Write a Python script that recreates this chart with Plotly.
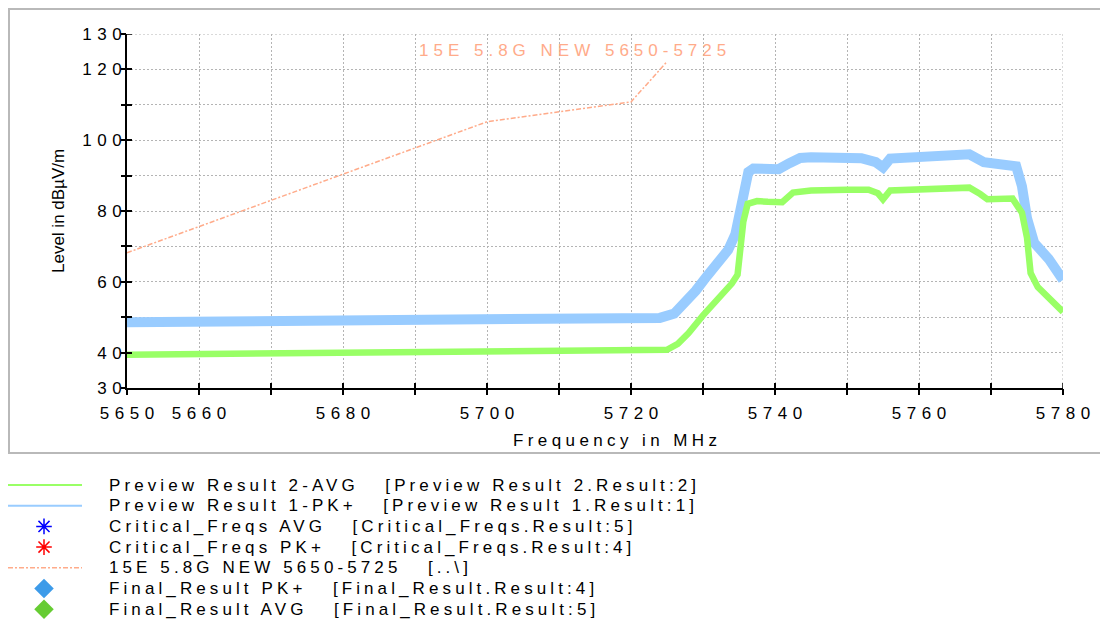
import plotly.graph_objects as go

# The page body has an 8px margin, so the figure is drawn 8px in from the
# window corner; all pixel positions below are window (page) pixels.
OFF = 8
W, H = 1108 - OFF, 623 - OFF

# ---------------- data ----------------
freq_pk = [5650, 5655, 5660, 5665, 5670, 5675, 5680, 5685, 5690, 5695, 5700, 5705,
           5710, 5715, 5720, 5724, 5726, 5727.5, 5729, 5730.5, 5732, 5733.5, 5734.5,
           5735.2, 5735.8, 5736.3, 5737, 5739, 5740.5, 5742, 5743.5, 5745, 5748, 5752,
           5754, 5755, 5756, 5760, 5764, 5767, 5769, 5771.5, 5773.5, 5774.3, 5775,
           5776, 5778, 5780]
level_pk = [48.6, 48.7, 48.8, 48.8, 49.0, 49.0, 49.2, 49.2, 49.4, 49.5, 49.8, 49.6,
            49.5, 49.6, 49.5, 49.8, 51.0, 54.0, 57.5, 61.5, 65.3, 69.0, 73.5,
            80.0, 87.0, 91.0, 92.0, 91.6, 91.8, 93.5, 95.0, 95.2, 94.8, 94.9,
            93.8, 92.3, 94.8, 95.1, 95.8, 96.0, 93.8, 93.2, 92.6, 87.0, 78.0,
            71.0, 66.5, 60.5]

freq_avg = [5650, 5660, 5670, 5680, 5690, 5700, 5710, 5720, 5725, 5726.5, 5728, 5730,
            5732, 5734, 5734.8, 5735.2, 5735.6, 5736.2, 5737.5, 5739, 5741, 5742.5,
            5745, 5750, 5753, 5754.3, 5755, 5756, 5760, 5764, 5767, 5768.5, 5769.5,
            5773, 5774.3, 5775, 5775.5, 5776.5, 5778, 5780]
level_avg = [39.4, 39.6, 39.8, 40.0, 40.2, 40.5, 40.4, 40.5, 40.8, 42.5, 45.5, 50.5,
             55.0, 59.5, 62.0, 70.0, 77.0, 82.0, 82.8, 82.6, 82.5, 85.2,
             85.8, 86.0, 86.0, 85.0, 83.3, 85.8, 86.0, 86.2, 86.6, 84.8, 83.3,
             83.5, 79.5, 72.5, 62.5, 58.5, 55.5, 51.5]

freq_limit = [5650, 5700, 5720, 5725]
level_limit = [68.2, 105.2, 110.8, 122.2]
limit_name = "15E 5.8G NEW 5650-5725"

x_tick_vals = [5650, 5660, 5670, 5680, 5690, 5700, 5710, 5720, 5730, 5740, 5750, 5760, 5770, 5780]
x_tick_labels = ["5650", "5660", "", "5680", "", "5700", "", "5720", "", "5740", "", "5760", "", "5780"]
y_tick_vals = [30, 40, 50, 60, 70, 80, 90, 100, 110, 120, 130]
y_tick_labels = ["30", "40", "", "60", "", "80", "", "100", "", "120", "130"]

x_range = [5650, 5780]
y_range = [30, 130]

x_title = "Frequency in MHz"
y_title = "Level in dBµV/m"

legend_labels = [
    "Preview Result 2-AVG   [Preview Result 2.Result:2]",
    "Preview Result 1-PK+   [Preview Result 1.Result:1]",
    "Critical_Freqs AVG   [Critical_Freqs.Result:5]",
    "Critical_Freqs PK+   [Critical_Freqs.Result:4]",
    "15E 5.8G NEW 5650-5725   [..\\]",
    "Final_Result PK+   [Final_Result.Result:4]",
    "Final_Result AVG   [Final_Result.Result:5]",
]

# ---------------- styles ----------------
C_AVG = "#99ff66"
C_PK = "#99ccff"
C_LIM = "#ffab8a"
GRID = "#b4b4b4"
GRID_DASH = "2px,2px"
FONT = "Liberation Sans, Arial, sans-serif"

L, R, T, B = 127, 1063, 34, 388  # plot area, page pixels


def spaced(s, ls):
    if len(s) < 2:
        return s
    return '<span style="letter-spacing:%spx">%s</span>%s' % (ls, s[:-1], s[-1])


fig = go.Figure()

fig.add_trace(go.Scatter(x=freq_pk, y=level_pk, mode="lines",
                         line=dict(color=C_PK, width=10), xaxis="x", yaxis="y"))
fig.add_trace(go.Scatter(x=freq_avg, y=level_avg, mode="lines",
                         line=dict(color=C_AVG, width=6.5), xaxis="x", yaxis="y"))
fig.add_trace(go.Scatter(x=freq_limit, y=level_limit, mode="lines",
                         line=dict(color=C_LIM, width=1.5, dash="5px,2px,2px,2px"),
                         xaxis="x", yaxis="y"))
# dummy trace for the overlay tick axes
fig.add_trace(go.Scatter(x=[None], y=[None], xaxis="x2", yaxis="y2"))

# ---------------- legend (page-pixel space on x3/y3) ----------------
row0, dy = 485, 20.7
rows = [row0 + i * dy for i in range(len(legend_labels))]
line_x = [8, 82]
mark_x = 44

fig.add_trace(go.Scatter(x=line_x, y=[rows[0]] * 2, mode="lines",
                         line=dict(color=C_AVG, width=2), xaxis="x3", yaxis="y3"))
fig.add_trace(go.Scatter(x=line_x, y=[rows[1]] * 2, mode="lines",
                         line=dict(color=C_PK, width=2), xaxis="x3", yaxis="y3"))
fig.add_trace(go.Scatter(x=[mark_x], y=[rows[2]], mode="markers",
                         marker=dict(symbol="asterisk-open", size=13, color="#0000ff",
                                     line=dict(color="#0000ff", width=1.5)),
                         xaxis="x3", yaxis="y3"))
fig.add_trace(go.Scatter(x=[mark_x], y=[rows[3]], mode="markers",
                         marker=dict(symbol="asterisk-open", size=13, color="#ff0000",
                                     line=dict(color="#ff0000", width=1.5)),
                         xaxis="x3", yaxis="y3"))
fig.add_trace(go.Scatter(x=line_x, y=[rows[4]] * 2, mode="lines",
                         line=dict(color=C_LIM, width=1.5, dash="5px,2px,2px,2px"),
                         xaxis="x3", yaxis="y3"))
fig.add_trace(go.Scatter(x=[mark_x], y=[rows[5]], mode="markers",
                         marker=dict(symbol="diamond", size=15, color="#3d9be9"),
                         xaxis="x3", yaxis="y3"))
fig.add_trace(go.Scatter(x=[mark_x], y=[rows[6]], mode="markers",
                         marker=dict(symbol="diamond", size=15, color="#66cc33"),
                         xaxis="x3", yaxis="y3"))

annotations = []
for yy, txt in zip(rows, legend_labels):
    annotations.append(dict(x=107, y=yy, xref="x3", yref="y3", text=spaced(txt, 4.1),
                            showarrow=False, xanchor="left", yanchor="middle",
                            font=dict(size=17, color="black", family=FONT)))

annotations.append(dict(x=511, y=440, xref="x3", yref="y3", text=spaced(x_title, 4.4),
                        showarrow=False, xanchor="left", yanchor="middle",
                        font=dict(size=17, color="black", family=FONT)))
annotations.append(dict(x=58, y=211, xref="x3", yref="y3", text=y_title, textangle=-90,
                        showarrow=False, xanchor="center", yanchor="middle",
                        font=dict(size=17, color="black", family=FONT)))
annotations.append(dict(x=417, y=50, xref="x3", yref="y3", text=spaced(limit_name, 5),
                        showarrow=False, xanchor="left", yanchor="middle",
                        font=dict(size=17, color=C_LIM, family=FONT)))

shapes = [
    # outer frame
    dict(type="rect", xref="x3", yref="y3", x0=9, x1=1101, y0=9, y1=453,
         line=dict(color="#b9b9b9", width=2), layer="below"),
    # edge grid lines that plotly drops at the range ends
    dict(type="line", xref="x", yref="y", x0=x_range[0], x1=x_range[1],
         y0=y_range[1], y1=y_range[1], line=dict(color=GRID, width=1, dash=GRID_DASH),
         layer="below"),
    dict(type="line", xref="x", yref="y", x0=x_range[1], x1=x_range[1],
         y0=y_range[0], y1=y_range[1], line=dict(color=GRID, width=1, dash=GRID_DASH),
         layer="below"),
    # inner halves of the end ticks
    dict(type="line", xref="x3", yref="y", x0=L, x1=L + 5, y0=y_range[1], y1=y_range[1],
         line=dict(color="black", width=1.5)),
    dict(type="line", xref="x", yref="y3", x0=x_range[1], x1=x_range[1], y0=B - 5, y1=B,
         line=dict(color="black", width=1.5)),
]

xdom = [(L - OFF) / W, (R - OFF) / W]
ydom = [1 - (B - OFF) / H, 1 - (T - OFF) / H]

tickfont = dict(size=17, color="black", family=FONT)

fig.update_layout(
    width=W, height=H, template="none",
    margin=dict(l=0, r=0, t=0, b=0, pad=0),
    paper_bgcolor="white", plot_bgcolor="rgba(0,0,0,0)",
    showlegend=False,
    font=dict(family=FONT, color="black"),
    xaxis=dict(domain=xdom, range=x_range, anchor="y",
               tickmode="array", tickvals=x_tick_vals,
               ticktext=[spaced(t, 5.5) for t in x_tick_labels],
               ticks="inside", ticklen=5, tickwidth=1.5, tickcolor="black",
               ticklabelstandoff=9,
               showline=True, linecolor="black", linewidth=2,
               showgrid=True, gridcolor=GRID, gridwidth=1, griddash=GRID_DASH,
               zeroline=False, tickfont=tickfont, automargin=False, fixedrange=True),
    yaxis=dict(domain=ydom, range=y_range, anchor="x",
               tickmode="array", tickvals=y_tick_vals,
               ticktext=[spaced(t, 5.5) for t in y_tick_labels],
               ticks="inside", ticklen=5, tickwidth=1.5, tickcolor="black",
               showline=True, linecolor="black", linewidth=2,
               showgrid=True, gridcolor=GRID, gridwidth=1, griddash=GRID_DASH,
               zeroline=False, tickfont=tickfont, automargin=False, fixedrange=True),
    xaxis2=dict(overlaying="x", range=x_range, anchor="y2",
                tickmode="array", tickvals=x_tick_vals, ticks="outside", ticklen=6,
                tickwidth=1.5, tickcolor="black", showticklabels=False,
                showgrid=False, showline=False, zeroline=False, fixedrange=True),
    yaxis2=dict(overlaying="y", range=y_range, anchor="x2",
                tickmode="array", tickvals=y_tick_vals, ticks="outside", ticklen=5,
                tickwidth=1.5, tickcolor="black", showticklabels=False,
                showgrid=False, showline=False, zeroline=False, fixedrange=True),
    xaxis3=dict(domain=[0, 1], range=[OFF, OFF + W], anchor="y3", visible=False,
                fixedrange=True),
    yaxis3=dict(domain=[0, 1], range=[OFF + H, OFF], anchor="x3", visible=False,
                fixedrange=True),
    annotations=annotations,
    shapes=shapes,
)

fig.write_html("out.html")
